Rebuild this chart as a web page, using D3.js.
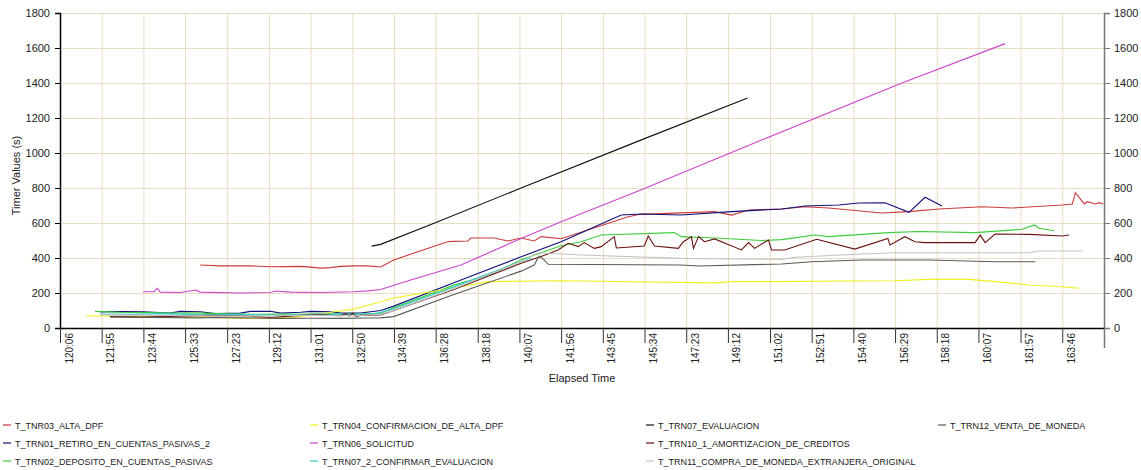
<!DOCTYPE html>
<html><head><meta charset="utf-8">
<script src="https://cdn.jsdelivr.net/npm/d3@7"></script>
<style>
body{margin:0;background:#fff}
text{font-family:"Liberation Sans",Arial,sans-serif}
</style>
</head><body>
<svg id="chart" width="1141" height="470"></svg>
<script>
// ---------- data ----------
const xTickLabels = ["120:06","121:55","123:44","125:33","127:23","129:12","131:01","132:50","134:39","136:28","138:18","140:07","141:56","143:45","145:34","147:23","149:12","151:02","152:51","154:40","156:29","158:18","160:07","161:57","163:46"];
const xEnd = 165.586; // last unlabeled tick (minutes)
const yTicks = [0,200,400,600,800,1000,1200,1400,1600,1800];

const seriesNames = ["T_TNR03_ALTA_DPF","T_TRN01_RETIRO_EN_CUENTAS_PASIVAS_2","T_TRN02_DEPOSITO_EN_CUENTAS_PASIVAS","T_TRN04_CONFIRMACION_DE_ALTA_DPF","T_TRN06_SOLICITUD","T_TRN07_2_CONFIRMAR_EVALUACION","T_TRN07_EVALUACION","T_TRN10_1_AMORTIZACION_DE_CREDITOS","T_TRN11_COMPRA_DE_MONEDA_EXTRANJERA_ORIGINAL","T_TRN12_VENTA_DE_MONEDA"];

// [elapsed minutes, seconds]
const tnr03 = [[126.21,360],[127.09,355],[128.40,355],[129.27,350],[130.58,352],[131.02,348],[131.45,342],[131.89,345],[132.33,352],[132.89,355],[133.51,355],[134.07,349],[134.64,389],[136.56,474],[137.00,493],[137.26,495],[137.87,497],[138.00,514],[139.01,514],[139.62,497],[140.19,514],[140.76,497],[141.06,522],[141.93,510],[144.86,636],[145.43,651],[145.73,651],[148.62,665],[149.36,645],[150.10,674],[151.54,680],[152.55,693],[153.59,686],[155.91,657],[157.09,665],[158.40,680],[160.28,693],[161.59,686],[163.77,703],[164.21,709],[164.34,773],[164.73,709],[164.86,722],[165.21,709],[165.38,716],[165.55,709]];
const trn01 = [[121.85,92],[122.72,94],[123.72,92],[124.90,85],[125.34,95],[126.21,93],[126.87,82],[127.96,85],[128.40,95],[129.27,96],[129.71,85],[130.58,90],[131.02,95],[131.89,93],[132.33,85],[133.20,86],[134.07,100],[134.64,125],[137.57,274],[140.19,407],[141.93,493],[144.55,646],[145.43,651],[147.17,646],[149.36,665],[151.54,680],[152.55,697],[154.03,703],[154.90,714],[156.04,716],[157.09,661],[157.79,747],[158.53,697]];
const trn02 = [[121.63,95],[122.72,90],[124.03,88],[125.34,86],[126.21,85],[127.09,82],[128.40,78],[129.71,80],[130.58,78],[131.45,82],[132.33,80],[133.20,78],[134.07,85],[134.64,115],[137.26,245],[138.75,300],[140.19,390],[141.06,430],[141.93,470],[142.81,493],[143.68,531],[146.87,545],[147.17,522],[148.62,514],[150.67,500],[151.54,505],[152.11,515],[152.98,531],[153.59,522],[156.21,545],[157.52,551],[159.97,545],[162.02,564],[162.55,589],[162.76,570],[163.42,556]];
const trn04 = [[121.24,70],[122.28,68],[123.72,64],[125.34,60],[126.65,62],[127.96,55],[129.27,55],[130.14,60],[131.02,72],[131.89,90],[132.89,108],[133.51,130],[134.07,150],[134.64,171],[137.57,236],[138.75,265],[141.93,270],[148.62,258],[149.36,265],[150.67,265],[156.48,270],[157.96,278],[159.71,278],[160.84,265],[162.33,246],[163.77,236],[164.51,227]];
const trn06 = [[123.72,207],[124.20,208],[124.34,227],[124.47,205],[125.34,203],[126.00,217],[126.21,205],[127.96,200],[129.27,203],[129.49,211],[130.14,205],[131.45,203],[132.89,207],[133.51,212],[134.07,220],[135.38,274],[137.57,360],[140.19,512],[141.93,607],[145.43,790],[150.67,1074],[156.78,1400],[161.28,1625]];
const trn07_2 = [[121.85,80],[123.16,78],[124.47,82],[126.21,75],[127.96,78],[129.71,72],[131.45,80],[132.89,78],[133.86,82],[134.64,110],[137.26,235],[140.19,380],[140.62,400]];
const trn07 = [[133.68,468],[134.07,478],[136.56,607],[140.19,800],[145.43,1075],[150.06,1314]];
const trn10_1 = [[122.28,65],[123.72,62],[125.34,68],[126.65,72],[127.96,70],[129.27,60],[130.58,72],[131.45,75],[132.33,70],[132.55,82],[132.70,68],[132.85,84],[133.00,66],[133.20,72],[134.07,75],[134.64,100],[137.26,220],[140.19,370],[141.06,408],[141.80,446],[142.24,484],[142.68,465],[142.94,488],[143.38,455],[143.68,465],[144.25,522],[144.34,457],[145.56,469],[145.73,526],[146.00,469],[147.04,455],[147.26,493],[147.61,522],[147.70,455],[147.92,522],[148.18,493],[148.62,509],[149.79,446],[150.10,488],[150.36,455],[150.97,503],[151.10,446],[151.67,446],[153.07,507],[154.73,451],[156.17,512],[156.26,474],[156.91,522],[157.35,493],[157.79,488],[159.97,488],[160.19,531],[160.41,488],[160.84,537],[162.33,535],[163.77,526],[164.07,531]];
const trn11 = [[121.85,75],[124.03,72],[126.21,70],[128.40,68],[130.58,73],[132.89,70],[134.07,78],[134.64,100],[137.26,225],[140.19,380],[140.93,430],[142.81,417],[147.17,398],[151.54,392],[152.11,404],[155.03,423],[156.48,430],[162.33,430],[162.76,440],[164.64,440]];
const trn12 = [[122.28,63],[124.03,60],[126.21,58],[126.87,60],[127.96,58],[129.71,55],[131.02,56],[132.33,55],[133.51,57],[134.07,58],[134.64,65],[137.26,191],[140.19,325],[140.76,360],[140.97,411],[141.19,389],[141.37,364],[147.17,360],[147.92,354],[151.54,366],[152.85,379],[155.03,389],[157.96,389],[160.84,379],[162.59,379]];

const seriesData = [tnr03,trn01,trn02,trn04,trn06,trn07_2,trn07,trn10_1,trn11,trn12];
const seriesColors = ["#cc3a3a","#10107a","#3ccc3c","#f0f020","#cc44cc","#33cccc","#111111","#6a1212","#c4c4c4","#5a5a5a"];

// ---------- layout ----------
const svg = d3.select("#chart");
const L = 60, R = 1104, T = 13, B = 328;
const parseT = s => { const [m, sec] = s.split(":").map(Number); return m + sec / 60; };
const xTickVals = xTickLabels.map(parseT);
const x = d3.scaleLinear().domain([xTickVals[0], xEnd]).range([L, R]);
const y = d3.scaleLinear().domain([0, 1800]).range([B, T]);
const fmt = d3.format("d");
const FONT = "Liberation Sans, Arial, sans-serif";

const gridColor = "#eadcc2";
// horizontal grid
svg.append("g").attr("transform", `translate(${L},0)`)
  .call(d3.axisLeft(y).tickValues(yTicks.slice(1)).tickSize(-(R - L)).tickFormat(""))
  .call(g => g.select(".domain").remove())
  .call(g => g.selectAll("line").attr("stroke", gridColor));
// vertical grid
svg.append("g").attr("transform", `translate(0,${B})`)
  .call(d3.axisBottom(x).tickValues(xTickVals.slice(1)).tickSize(-(B - T)).tickFormat(""))
  .call(g => g.select(".domain").remove())
  .call(g => g.selectAll("line").attr("stroke", gridColor));

// lines
const line = d3.line().x(d => x(d[0])).y(d => y(d[1]));
svg.append("g").selectAll("path").data(seriesData).join("path")
  .attr("d", line).attr("fill", "none")
  .attr("stroke", (d, i) => seriesColors[i]).attr("stroke-width", 1.1);

// left axis
svg.append("g").attr("transform", `translate(${L},0)`)
  .call(d3.axisLeft(y).tickValues(yTicks).tickFormat(fmt).tickSize(5).tickPadding(5))
  .call(g => g.select(".domain").attr("stroke", "#000").attr("stroke-width", 1.5))
  .call(g => g.selectAll("line").attr("stroke", "#000"))
  .call(g => g.selectAll("text").attr("font-size", 11).attr("fill", "#222").style("font-family", FONT));

// right axis
svg.append("g").attr("transform", `translate(${R},0)`)
  .call(d3.axisRight(y).tickValues(yTicks).tickFormat(fmt).tickSize(6).tickPadding(4))
  .call(g => g.select(".domain").attr("stroke", "#777").attr("stroke-width", 1.5))
  .call(g => g.selectAll("line").attr("stroke", "#777"))
  .call(g => g.selectAll("text").attr("font-size", 11).attr("fill", "#222").style("font-family", FONT));

// bottom axis
const labelFor = v => { const i = xTickVals.indexOf(v); return i >= 0 ? xTickLabels[i] : ""; };
const xa = svg.append("g").attr("transform", `translate(0,${B})`)
  .call(d3.axisBottom(x).tickValues([...xTickVals, xEnd]).tickSize(15).tickSizeOuter(0).tickFormat(labelFor))
  .call(g => g.select(".domain").attr("stroke", "#000").attr("stroke-width", 1.5))
  .call(g => g.selectAll("line").attr("stroke", "#333"));
xa.selectAll(".tick line").filter(d => d === xEnd).attr("stroke", "#777").attr("stroke-width", 1.5).attr("y2", 20);
xa.selectAll("text")
  .attr("font-size", 10).attr("fill", "#222")
  .style("font-family", FONT)
  .attr("text-anchor", "end").attr("dy", null).attr("y", null)
  .attr("transform", "translate(12,5) rotate(-90)");

// axis titles
svg.append("text").attr("x", (L + R) / 2).attr("y", 382).attr("text-anchor", "middle")
  .attr("font-size", 11).attr("fill", "#222").text("Elapsed Time");
svg.append("text").attr("transform", `translate(20,${(T + B) / 2 + 5}) rotate(-90)`)
  .attr("text-anchor", "middle").attr("font-size", 11).attr("fill", "#222").text("Timer Values (s)");

// legend
const colX = [3, 310, 646, 938];
const rowY = [425, 443, 461];
const lg = svg.append("g").selectAll("g").data(seriesNames).join("g")
  .attr("transform", (d, i) => `translate(${colX[Math.floor(i / 3)]},${rowY[i % 3]})`);
lg.append("line").attr("x1", 0).attr("x2", 8).attr("y1", 0).attr("y2", 0)
  .attr("stroke", (d, i) => seriesColors[i]).attr("stroke-width", 1.2);
lg.append("text").attr("x", 12).attr("y", 3.5).attr("font-size", 9).attr("fill", "#222").text(d => d);
</script>
</body></html>
